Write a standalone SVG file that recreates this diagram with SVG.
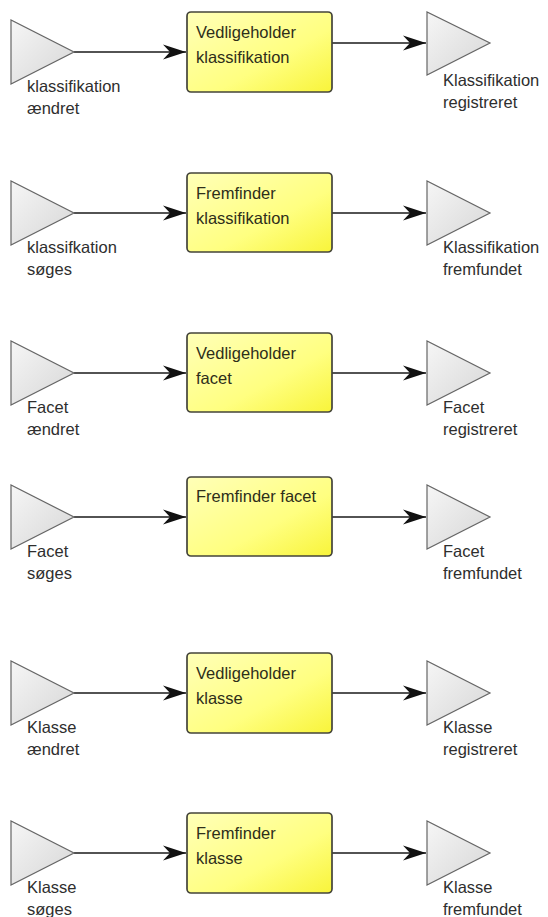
<svg xmlns="http://www.w3.org/2000/svg" width="548" height="917" viewBox="0 0 548 917">
<style>
.box{fill:url(#gy);stroke:#44443a;stroke-width:1.7}
.tri{fill:url(#gg);stroke:#666;stroke-width:1.2;stroke-linejoin:miter}
.lbl{font-family:"Liberation Sans",Arial,sans-serif;font-size:16.5px;fill:#2e2e2e}
.btx{font-family:"Liberation Sans",Arial,sans-serif;font-size:16.5px;fill:#2e2e1a}
.con{stroke:#1a1a1a;stroke-width:1.6;fill:none;marker-end:url(#ah)}
</style>
<defs>
<linearGradient id="gy" x1="0" y1="0" x2="1" y2="1">
<stop offset="0" stop-color="#ffffb8"/>
<stop offset="0.6" stop-color="#ffff80"/>
<stop offset="1" stop-color="#f8f43a"/>
</linearGradient>
<linearGradient id="gg" x1="0" y1="0" x2="1" y2="1">
<stop offset="0" stop-color="#f6f6f6"/>
<stop offset="1" stop-color="#d6d6d6"/>
</linearGradient>
<marker id="ah" markerUnits="userSpaceOnUse" markerWidth="26" markerHeight="18" refX="24" refY="8" orient="auto">
<path d="M24,8 L1,0.5 L8,8 L1,15.5 Z" fill="#111"/>
</marker>
</defs>
<rect width="548" height="917" fill="#fff"/>
<g id="connectors">
<line class="con" x1="74" y1="52" x2="186" y2="52"/>
<line class="con" x1="332" y1="43" x2="426" y2="43"/>
<line class="con" x1="74" y1="213" x2="186" y2="213"/>
<line class="con" x1="332" y1="213" x2="426" y2="213"/>
<line class="con" x1="74" y1="373" x2="186" y2="373"/>
<line class="con" x1="332" y1="373" x2="426" y2="373"/>
<line class="con" x1="74" y1="517" x2="186" y2="517"/>
<line class="con" x1="332" y1="517" x2="426" y2="517"/>
<line class="con" x1="74" y1="693" x2="186" y2="693"/>
<line class="con" x1="332" y1="693" x2="426" y2="693"/>
<line class="con" x1="74" y1="853" x2="186" y2="853"/>
<line class="con" x1="332" y1="853" x2="426" y2="853"/>
</g>
<!-- Row 1 -->
<g id="ev-klassifikation-aendret">
<polygon class="tri" points="11,20 11,84 74,52"/>
<text class="lbl" x="27" y="92">klassifikation</text>
<text class="lbl" x="27" y="114">ændret</text>
</g>
<g id="fn-vedligeholder-klassifikation">
<rect class="box" x="187" y="12" width="145" height="80" rx="4"/>
<text class="btx" x="196" y="38">Vedligeholder</text>
<text class="btx" x="196" y="63">klassifikation</text>
</g>
<g id="ev-klassifikation-registreret">
<polygon class="tri" points="427,12 427,75 490,43"/>
<text class="lbl" x="443" y="86">Klassifikation</text>
<text class="lbl" x="443" y="108">registreret</text>
</g>
<!-- Row 2 -->
<g id="ev-klassifikation-soeges">
<polygon class="tri" points="11,181 11,245 74,213"/>
<text class="lbl" x="27" y="253">klassifkation</text>
<text class="lbl" x="27" y="275">søges</text>
</g>
<g id="fn-fremfinder-klassifikation">
<rect class="box" x="187" y="173" width="145" height="79" rx="4"/>
<text class="btx" x="196" y="199">Fremfinder</text>
<text class="btx" x="196" y="224">klassifikation</text>
</g>
<g id="ev-klassifikation-fremfundet">
<polygon class="tri" points="427,181 427,245 490,213"/>
<text class="lbl" x="443" y="253">Klassifikation</text>
<text class="lbl" x="443" y="275">fremfundet</text>
</g>
<!-- Row 3 -->
<g id="ev-facet-aendret">
<polygon class="tri" points="11,341 11,405 74,373"/>
<text class="lbl" x="27" y="413">Facet</text>
<text class="lbl" x="27" y="435">ændret</text>
</g>
<g id="fn-vedligeholder-facet">
<rect class="box" x="187" y="333" width="145" height="79" rx="4"/>
<text class="btx" x="196" y="359">Vedligeholder</text>
<text class="btx" x="196" y="384">facet</text>
</g>
<g id="ev-facet-registreret">
<polygon class="tri" points="427,341 427,405 490,373"/>
<text class="lbl" x="443" y="413">Facet</text>
<text class="lbl" x="443" y="435">registreret</text>
</g>
<!-- Row 4 -->
<g id="ev-facet-soeges">
<polygon class="tri" points="11,485 11,549 74,517"/>
<text class="lbl" x="27" y="557">Facet</text>
<text class="lbl" x="27" y="579">søges</text>
</g>
<g id="fn-fremfinder-facet">
<rect class="box" x="187" y="477" width="145" height="79" rx="4"/>
<text class="btx" x="196" y="502">Fremfinder facet</text>
</g>
<g id="ev-facet-fremfundet">
<polygon class="tri" points="427,485 427,549 490,517"/>
<text class="lbl" x="443" y="557">Facet</text>
<text class="lbl" x="443" y="579">fremfundet</text>
</g>
<!-- Row 5 -->
<g id="ev-klasse-aendret">
<polygon class="tri" points="11,661 11,725 74,693"/>
<text class="lbl" x="27" y="733">Klasse</text>
<text class="lbl" x="27" y="755">ændret</text>
</g>
<g id="fn-vedligeholder-klasse">
<rect class="box" x="187" y="653" width="145" height="80" rx="4"/>
<text class="btx" x="196" y="679">Vedligeholder</text>
<text class="btx" x="196" y="704">klasse</text>
</g>
<g id="ev-klasse-registreret">
<polygon class="tri" points="427,661 427,725 490,693"/>
<text class="lbl" x="443" y="733">Klasse</text>
<text class="lbl" x="443" y="755">registreret</text>
</g>
<!-- Row 6 -->
<g id="ev-klasse-soeges">
<polygon class="tri" points="11,821 11,885 74,853"/>
<text class="lbl" x="27" y="893">Klasse</text>
<text class="lbl" x="27" y="915">søges</text>
</g>
<g id="fn-fremfinder-klasse">
<rect class="box" x="187" y="813" width="145" height="80" rx="4"/>
<text class="btx" x="196" y="839">Fremfinder</text>
<text class="btx" x="196" y="864">klasse</text>
</g>
<g id="ev-klasse-fremfundet">
<polygon class="tri" points="427,821 427,885 490,853"/>
<text class="lbl" x="443" y="893">Klasse</text>
<text class="lbl" x="443" y="915">fremfundet</text>
</g>
</svg>
